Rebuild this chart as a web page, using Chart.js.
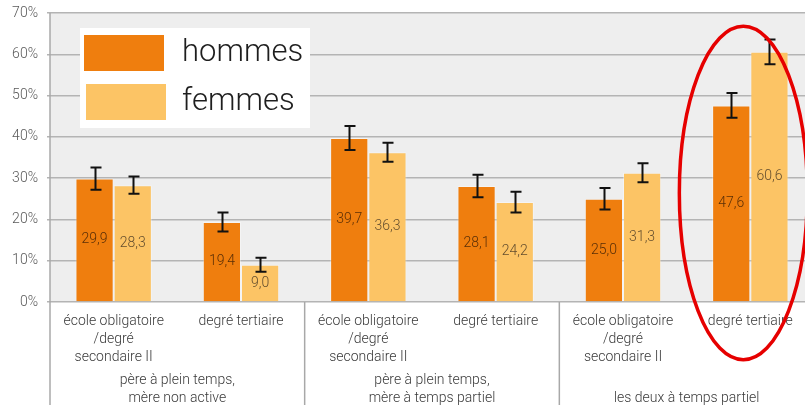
<!DOCTYPE html>
<html>
<head>
<meta charset="utf-8">
<script src="https://cdn.jsdelivr.net/npm/chart.js@4/dist/chart.umd.min.js"></script>
<style>
html,body{margin:0;padding:0;overflow:hidden;background:#fff;width:805px;height:405px;}
#wrap{position:absolute;left:0;top:0;width:814px;height:405px;}
</style>
</head>
<body>
<div id="wrap"><canvas id="c" width="814" height="405"></canvas></div>
<script>
const categories = [
  ["école obligatoire","/degré","secondaire II"],
  ["degré tertiaire"],
  ["école obligatoire","/degré","secondaire II"],
  ["degré tertiaire"],
  ["école obligatoire","/degré","secondaire II"],
  ["degré tertiaire"]
];
const groupLabels = [
  ["père à plein temps,","mère non active"],
  ["père à plein temps,","mère à temps partiel"],
  ["","les deux à temps partiel"]
];
const seriesNames = ["hommes","femmes"];
const hommes = [29.9, 19.4, 39.7, 28.1, 25.0, 47.6];
const femmes = [28.3, 9.0, 36.3, 24.2, 31.3, 60.6];
const errHommes = [2.7, 2.3, 2.9, 2.7, 2.6, 3.0];
const errFemmes = [2.1, 1.7, 2.3, 2.5, 2.3, 3.0];
const yTicks = [0,10,20,30,40,50,60,70];

const FONT = "Roboto, 'Liberation Sans', sans-serif";
const orange = '#ef7e0e';
const light = '#fcc465';

const bgPlugin = {
  id:'bg',
  beforeDraw(chart){
    const {ctx, chartArea:a} = chart;
    ctx.save();
    ctx.fillStyle = '#eeeeee';
    ctx.fillRect(a.left, a.top, a.right-a.left, a.bottom-a.top);
    ctx.restore();
  }
};

const extrasPlugin = {
  id:'extras',
  afterDatasetsDraw(chart){
    const {ctx, chartArea:a, scales:{x,y}} = chart;
    const errs = [errHommes, errFemmes];
    const vals = [hommes, femmes];
    ctx.save();
    ctx.font = "300 14px " + FONT;
    ctx.textAlign = 'center';
    ctx.textBaseline = 'middle';
    chart.data.datasets.forEach((ds, di) => {
      const meta = chart.getDatasetMeta(di);
      meta.data.forEach((el, i) => {
        const v = vals[di][i];
        ctx.fillStyle = di === 0 ? 'rgba(60,30,5,0.85)' : 'rgba(70,55,35,0.85)';
        ctx.fillText(v.toFixed(1).replace('.', ','), el.x, (el.y + el.base)/2);
      });
    });
    ctx.strokeStyle = '#111';
    ctx.lineWidth = 2;
    chart.data.datasets.forEach((ds, di) => {
      const meta = chart.getDatasetMeta(di);
      meta.data.forEach((el, i) => {
        const v = vals[di][i], e = errs[di][i];
        const yt = y.getPixelForValue(v+e), yb = y.getPixelForValue(v-e);
        const cx = Math.round(el.x) + 0.5;
        ctx.beginPath();
        ctx.moveTo(cx, yt); ctx.lineTo(cx, yb);
        ctx.moveTo(cx-5, yt); ctx.lineTo(cx+6, yt);
        ctx.moveTo(cx-5, yb); ctx.lineTo(cx+6, yb);
        ctx.stroke();
      });
    });
    ctx.fillStyle = '#ffffff';
    ctx.fillRect(80, 28, 230, 100);
    const sw = [orange, light];
    const sy = [35, 84];
    const sx = [84, 86];
    seriesNames.forEach((n, i) => {
      ctx.fillStyle = sw[i];
      ctx.fillRect(sx[i], sy[i], 80, 36);
      ctx.fillStyle = '#1e1e1e';
      ctx.font = "300 31px " + FONT;
      ctx.textAlign = 'left';
      ctx.textBaseline = 'middle';
      ctx.fillText(n, 182, sy[i] + 18);
    });
    ctx.restore();
  },
  afterDraw(chart){
    const {ctx, chartArea:a, scales:{x,y}} = chart;
    ctx.save();
    ctx.strokeStyle = '#a8a8a8';
    ctx.lineWidth = 1.5;
    const bounds = [a.left, (x.getPixelForValue(1)+x.getPixelForValue(2))/2, (x.getPixelForValue(3)+x.getPixelForValue(4))/2];
    bounds.forEach((bx, i) => {
      ctx.beginPath();
      ctx.moveTo(bx, i === 0 ? a.top : a.bottom);
      ctx.lineTo(bx, chart.height);
      ctx.stroke();
    });
    ctx.fillStyle = '#3a3a3a';
    ctx.font = "300 14px " + FONT;
    ctx.textAlign = 'center';
    ctx.textBaseline = 'middle';
    groupLabels.forEach((g, gi) => {
      const cx = (x.getPixelForValue(gi*2) + x.getPixelForValue(gi*2+1))/2;
      g.forEach((line, li) => {
        if (line) ctx.fillText(line, cx, 380 + li*18);
      });
    });
    const ecx = x.getPixelForValue(5) - 7;
    const eTop = y.getPixelForValue(66.8), eBot = y.getPixelForValue(-14);
    ctx.strokeStyle = '#e60000';
    ctx.lineWidth = 3.5;
    ctx.beginPath();
    ctx.ellipse(ecx, (eTop+eBot)/2, 64, (eBot-eTop)/2, 0, 0, Math.PI*2);
    ctx.stroke();
    ctx.restore();
  }
};

new Chart(document.getElementById('c'), {
  type:'bar',
  data:{
    labels: categories,
    datasets:[
      {label: seriesNames[0], data: hommes, backgroundColor: orange, borderColor:'rgba(255,255,255,0.35)', borderWidth:1, categoryPercentage:0.6, barPercentage:1.0},
      {label: seriesNames[1], data: femmes, backgroundColor: light, borderColor:'rgba(255,255,255,0.35)', borderWidth:1, categoryPercentage:0.6, barPercentage:1.0}
    ]
  },
  options:{
    responsive:false,
    animation:false,
    devicePixelRatio:1,
    layout:{padding:{top:13,left:0,right:0,bottom:0}},
    plugins:{legend:{display:false}, tooltip:{enabled:false}},
    scales:{
      x:{
        grid:{display:false},
        border:{display:false},
        ticks:{autoSkip:false, maxRotation:0, padding:2, color:'#3a3a3a', font:{family:FONT, size:14, weight:'300', lineHeight:1.3}},
        afterFit(s){ s.height = 103; s.paddingLeft = 0; s.paddingRight = 0; }
      },
      y:{
        min:0, max:70,
        afterBuildTicks(s){ s.ticks = yTicks.map(v => ({value:v})); },
        grid:{color:'#b4b4b4', lineWidth:1.5, tickLength:3},
        border:{display:false},
        ticks:{padding:9, color:'#5a5a5a', font:{family:FONT, size:14, weight:'300'}, callback:v => v + '%'},
        afterFit(s){ s.width = 50; s.paddingTop = 0; s.paddingBottom = 0; }
      }
    }
  },
  plugins:[bgPlugin, extrasPlugin]
});
</script>
</body>
</html>
